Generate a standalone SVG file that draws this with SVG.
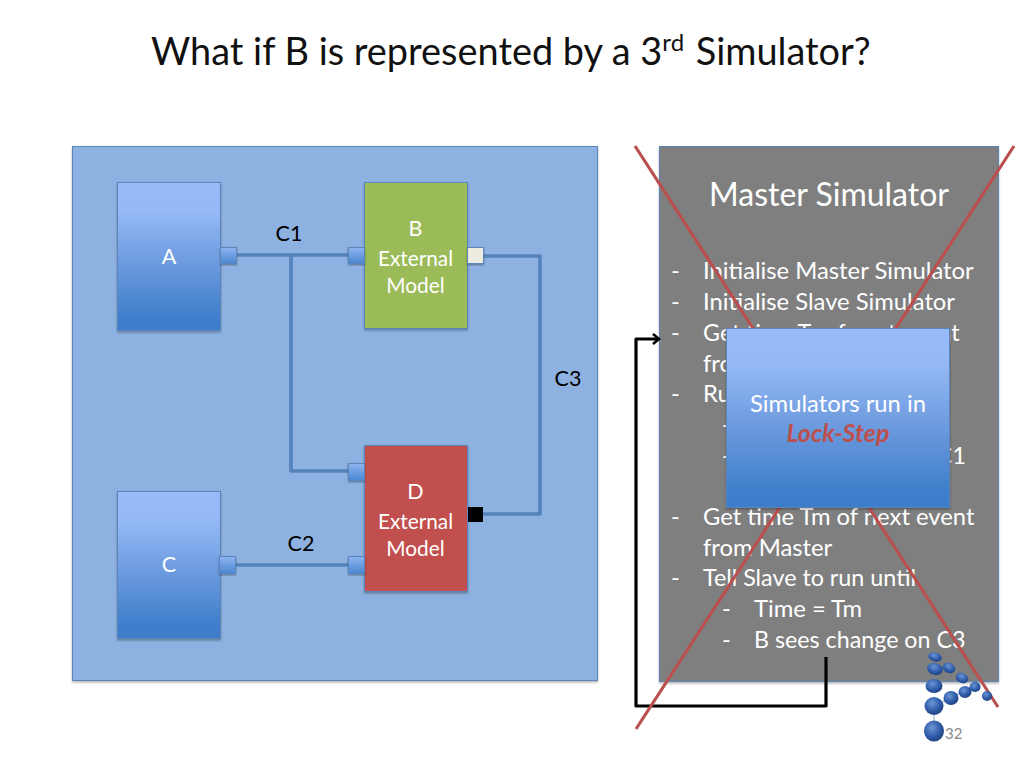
<svg xmlns="http://www.w3.org/2000/svg" width="1024" height="768" viewBox="0 0 1024 768">
<defs>
<linearGradient id="blue" x1="0" y1="0" x2="0" y2="1"><stop offset="0" stop-color="#98bcfa"/><stop offset="0.2" stop-color="#94b9f6"/><stop offset="0.55" stop-color="#6c9ade"/><stop offset="0.9" stop-color="#3f7fcb"/><stop offset="1" stop-color="#3d7dca"/></linearGradient>
<linearGradient id="port" x1="0" y1="0" x2="0" y2="1"><stop offset="0" stop-color="#8fb4f0"/><stop offset="1" stop-color="#4a86d2"/></linearGradient>
<radialGradient id="ball" cx="0.4" cy="0.35" r="0.7"><stop offset="0" stop-color="#6d96d8"/><stop offset="0.6" stop-color="#2f5ca8"/><stop offset="1" stop-color="#1d3f7e"/></radialGradient>
<filter id="sh" x="-10%" y="-10%" width="120%" height="120%"><feDropShadow dx="0" dy="1.5" stdDeviation="1.2" flood-color="#000" flood-opacity="0.3"/></filter>
<marker id="arr" markerUnits="userSpaceOnUse" markerWidth="14" markerHeight="14" refX="11" refY="7" orient="auto"><path d="M5 2L11 7L5 12" fill="none" stroke="#000" stroke-width="2.6"/></marker>
</defs>
<style>
text{font-family:Lato,"Liberation Sans",sans-serif}
.box{stroke:#5a86bc;stroke-width:1;filter:url(#sh)}
.port{fill:url(#port);stroke:#5a86bc;stroke-width:1;filter:url(#sh)}
.wire{fill:none;stroke:#5583bb;stroke-width:3.6;stroke-linejoin:round}
.n{fill:#fff;font-size:21.500px;text-anchor:middle}
.m{fill:#fff;font-size:20.800px;text-anchor:middle}
.k{fill:#000;font-size:21.500px;text-anchor:middle}
.l{fill:#fff;font-size:23.800px}
.x{stroke:#b9504e;stroke-width:3.200;fill:none}
</style>
<rect width="1024" height="768" fill="#fff"/>
<text id="title" x="151" y="65" font-size="37.900" fill="#111">What if B is represented by a 3<tspan font-size="24" dy="-14">rd</tspan><tspan dy="14" dx="2"> Simulator?</tspan></text>

<g id="left-panel"><rect class="box" x="72.500" y="146.500" width="525" height="534" fill="#8db1e0"/></g>

<g id="connectors">
<path class="wire" d="M236 255H349"/>
<path class="wire" d="M291 255V471H349"/>
<path class="wire" d="M483 256H540V514H483"/>
<path class="wire" d="M235 565H349"/>
</g>

<g id="node-a"><rect class="box" x="117.500" y="182.500" width="103" height="148" fill="url(#blue)"/><text class="n" x="169" y="264">A</text></g>
<g id="node-c"><rect class="box" x="117.500" y="491.500" width="103" height="147" fill="url(#blue)"/><text class="n" x="169" y="572">C</text></g>
<g id="node-b"><rect class="box" x="364.500" y="182.500" width="103" height="146" fill="#9bbb59"/><text class="n" x="415.500" y="236">B</text><text class="m" x="415.500" y="265.500">External</text><text class="m" x="415.500" y="292.500">Model</text></g>
<g id="node-d"><rect class="box" x="364.500" y="445.500" width="103" height="146" fill="#c0504d"/><text class="n" x="415.500" y="499">D</text><text class="m" x="415.500" y="528.500">External</text><text class="m" x="415.500" y="555.500">Model</text></g>

<g id="ports">
<rect class="port" x="220.500" y="247.500" width="16" height="16"/>
<rect class="port" x="348.500" y="247.500" width="16" height="16"/>
<rect x="467.500" y="247.500" width="16" height="16" fill="#eeece1" stroke="#5a86bc" filter="url(#sh)"/>
<rect class="port" x="348.500" y="463.500" width="16" height="17"/>
<rect x="468" y="507" width="15" height="15" fill="#000"/>
<rect class="port" x="219.500" y="556.500" width="16" height="17"/>
<rect class="port" x="348.500" y="556.500" width="16" height="17"/>
</g>

<g id="connector-labels">
<text class="k" x="289" y="241">C1</text>
<text class="k" x="301" y="551">C2</text>
<text class="k" x="568" y="386">C3</text>
</g>

<g id="master-panel">
<rect class="box" x="659.500" y="146.500" width="339" height="535" fill="#7f7f7f"/>
<text x="829" y="206" font-size="32" fill="#fff" text-anchor="middle">Master Simulator</text>
<text class="l" x="671" y="279">-</text><text class="l" x="703" y="279">Initialise Master Simulator</text>
<text class="l" x="671" y="310">-</text><text class="l" x="703" y="310">Initialise Slave Simulator</text>
<text class="l" x="671" y="341">-</text><text class="l" x="703" y="341" style="font-size:23.300px">Get time Ts of next event</text>
<text class="l" x="703" y="372">from</text>
<text class="l" x="671" y="402">-</text><text class="l" x="703" y="402">Run</text>
<text class="l" x="722" y="433">-</text>
<text class="l" x="722" y="464">-</text><text class="l" x="966" y="464" text-anchor="end">C1</text>
<text class="l" x="671" y="525">-</text><text class="l" x="703" y="525">Get time Tm of next event</text>
<text class="l" x="703" y="556">from Master</text>
<text class="l" x="671" y="586">-</text><text class="l" x="703" y="586" style="font-size:23.300px">Tell Slave to run until</text>
<text class="l" x="722" y="617">-</text><text class="l" x="754" y="617">Time = Tm</text>
<text class="l" x="722" y="648">-</text><text class="l" x="754" y="648" style="font-size:23.250px">B sees change on C3</text>
</g>

<g id="loop-arrow">
<path d="M826 657V706H636V339H659" fill="none" stroke="#000" stroke-width="3.200" stroke-linejoin="round" marker-end="url(#arr)"/>
</g>

<g id="cross">
<path class="x" d="M635 146L998 707"/>
<path class="x" d="M1014 146L636 729"/>
</g>

<g id="lockstep"><rect class="box" x="726.500" y="328.500" width="223" height="179" fill="url(#blue)"/>
<text x="838" y="412" font-size="23.800" fill="#fff" text-anchor="middle">Simulators run in</text>
<text x="838" y="442" font-size="25" fill="#bd4f4c" font-weight="700" font-style="italic" text-anchor="middle">Lock-Step</text></g>

<g id="logo">
<path d="M934 706V730M934 706L980 683" stroke="#b8c4d8" stroke-width="1.500" fill="none"/>
<g fill="url(#ball)">
<ellipse cx="934" cy="731" rx="10" ry="10.500"/>
<ellipse cx="934" cy="706" rx="9.500" ry="9"/>
<ellipse cx="934" cy="686" rx="8.500" ry="7"/>
<ellipse cx="935" cy="669" rx="8" ry="6" transform="rotate(15 935 669)"/>
<ellipse cx="935" cy="657" rx="7" ry="4.500" transform="rotate(15 935 657)"/>
<ellipse cx="949" cy="668" rx="6.500" ry="5" transform="rotate(25 949 668)"/>
<ellipse cx="962" cy="678" rx="6.500" ry="5" transform="rotate(25 962 678)"/>
<ellipse cx="951" cy="698" rx="7.500" ry="7"/>
<ellipse cx="965" cy="692" rx="6.500" ry="6"/>
<ellipse cx="975" cy="687" rx="5.500" ry="5"/>
<ellipse cx="987" cy="696" rx="5" ry="5"/>
</g>
<text x="945" y="739" font-size="15" fill="#8a8a8a">32</text>
</g>
</svg>
